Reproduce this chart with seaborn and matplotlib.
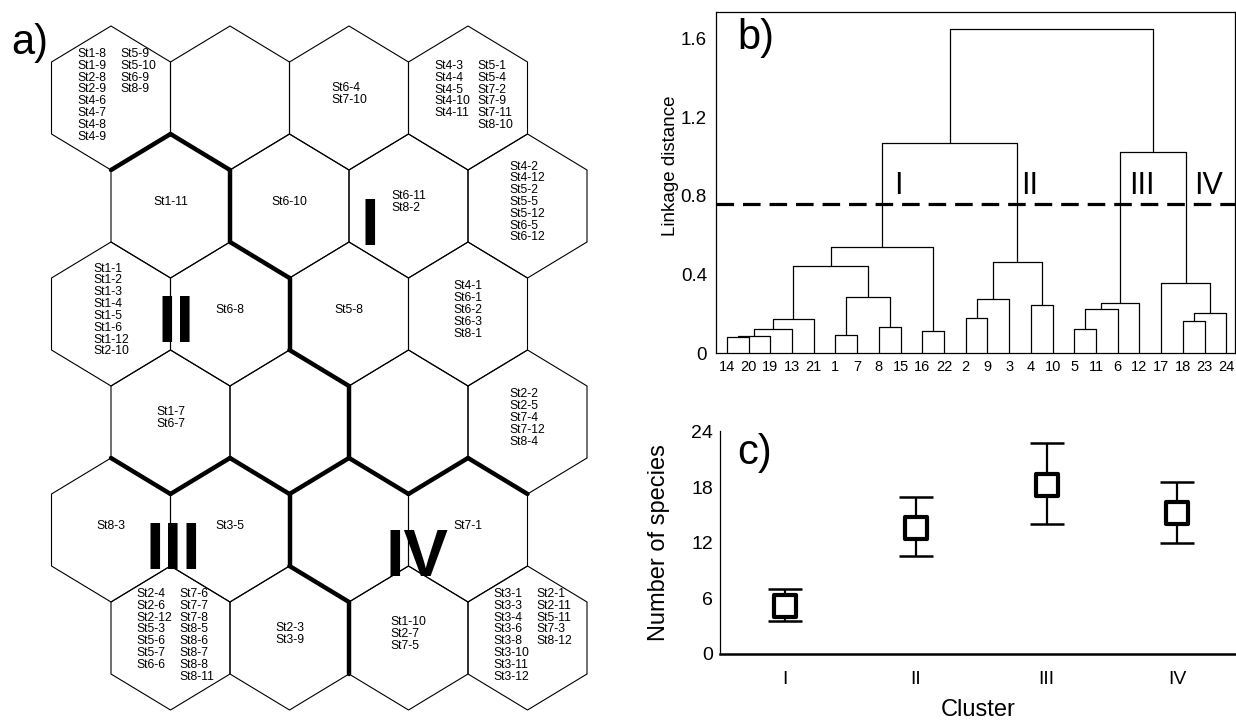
import numpy as np
import pandas as pd
import matplotlib
matplotlib.use("Agg")
import matplotlib.pyplot as plt
from matplotlib.patches import Polygon
import seaborn as sns

# ---------------- data ----------------
# (a) SOM map: 6 rows x 4 nodes, each node = (first text column, second text column)
som_row0 = [(["St1-8", "St1-9", "St2-8", "St2-9", "St4-6", "St4-7", "St4-8", "St4-9"],
             ["St5-9", "St5-10", "St6-9", "St8-9"]),
            ([], []),
            (["St6-4", "St7-10"], []),
            (["St4-3", "St4-4", "St4-5", "St4-10", "St4-11"],
             ["St5-1", "St5-4", "St7-2", "St7-9", "St7-11", "St8-10"])]
som_row1 = [(["St1-11"], []),
            (["St6-10"], []),
            (["St6-11", "St8-2"], []),
            (["St4-2", "St4-12", "St5-2", "St5-5", "St5-12", "St6-5", "St6-12"], [])]
som_row2 = [(["St1-1", "St1-2", "St1-3", "St1-4", "St1-5", "St1-6", "St1-12", "St2-10"], []),
            (["St6-8"], []),
            (["St5-8"], []),
            (["St4-1", "St6-1", "St6-2", "St6-3", "St8-1"], [])]
som_row3 = [(["St1-7", "St6-7"], []),
            ([], []),
            ([], []),
            (["St2-2", "St2-5", "St7-4", "St7-12", "St8-4"], [])]
som_row4 = [(["St8-3"], []),
            (["St3-5"], []),
            ([], []),
            (["St7-1"], [])]
som_row5 = [(["St2-4", "St2-6", "St2-12", "St5-3", "St5-6", "St5-7", "St6-6"],
             ["St7-6", "St7-7", "St7-8", "St8-5", "St8-6", "St8-7", "St8-8", "St8-11"]),
            (["St2-3", "St3-9"], []),
            (["St1-10", "St2-7", "St7-5"], []),
            (["St3-1", "St3-3", "St3-4", "St3-6", "St3-8", "St3-10", "St3-11", "St3-12"],
             ["St2-1", "St2-11", "St5-11", "St7-3", "St8-12"])]
som_cluster = [["I", "I", "I", "I"],
               ["II", "I", "I", "I"],
               ["II", "II", "I", "I"],
               ["II", "II", "I", "I"],
               ["III", "III", "IV", "IV"],
               ["III", "III", "IV", "IV"]]

# (b) dendrogram: leaf order and successive merges (a, b, linkage distance)
leaf_order = [14, 20, 19, 13, 21, 1, 7, 8, 15, 16, 22, 2, 9, 3, 4, 10, 5, 11, 6, 12, 17, 18, 23, 24]
merge_a = [14, "c0", "c1", "c2", 1, 8, "c4", "c3", 16, "c7", 2, "c10", 4, "c11", "c9",
           5, "c15", "c16", 18, "c18", 17, "c17", "c14"]
merge_b = [20, 19, 13, 21, 7, 15, "c5", "c6", 22, "c8", 9, 3, 10, "c12", "c13",
           11, 6, 12, 23, 24, "c19", "c20", "c21"]
merge_h = [0.080, 0.087, 0.124, 0.172, 0.090, 0.132, 0.285, 0.443, 0.112, 0.540, 0.180, 0.277,
           0.243, 0.462, 1.068, 0.120, 0.222, 0.253, 0.165, 0.205, 0.355, 1.026, 1.650]
cut_level = 0.76
b_cluster_labels = ["I", "II", "III", "IV"]

# (c) number of species per cluster
clusters = ["I", "II", "III", "IV"]
species_mean = [5.2, 13.65, 18.3, 15.2]
species_hi = [7.05, 17.0, 22.8, 18.55]
species_lo = [3.6, 10.55, 14.0, 12.0]

# ---------------- style ----------------
sns.set_theme(style="white")
plt.rcParams['font.family'] = ['Liberation Sans', 'DejaVu Sans']
plt.rcParams['axes.edgecolor'] = 'black'
plt.rcParams['text.color'] = 'black'
plt.rcParams['xtick.color'] = 'black'
plt.rcParams['ytick.color'] = 'black'
plt.rcParams['axes.labelcolor'] = 'black'

W, H = 1236, 720
fig = plt.figure(figsize=(W / 100, H / 100), dpi=100)

# ---------------- (a) hexagon map ----------------
axa = fig.add_axes([0, 0, 600 / W, 1])
axa.set_xlim(0, 600)
axa.set_ylim(H, 0)
axa.axis('off')

x0, y0, px, py = 111.0, 98.0, 119.0, 108.0
hw, R = 59.5, 72.0
offs = [(0, -R), (hw, -R / 2), (hw, R / 2), (0, R), (-hw, R / 2), (-hw, -R / 2)]
rows = [som_row0, som_row1, som_row2, som_row3, som_row4, som_row5]

edge_map = {}
for r, row in enumerate(rows):
    for c, (col1, col2) in enumerate(row):
        cx = x0 + px * c + (hw if r % 2 else 0)
        cy = y0 + py * r
        verts = [(cx + dx, cy + dy) for dx, dy in offs]
        axa.add_patch(Polygon(verts, closed=True, fill=False, ec='black', lw=0.8))
        for i in range(6):
            p1 = (round(verts[i][0], 1), round(verts[i][1], 1))
            p2 = (round(verts[(i + 1) % 6][0], 1), round(verts[(i + 1) % 6][1], 1))
            key = tuple(sorted([p1, p2]))
            edge_map.setdefault(key, []).append(som_cluster[r][c])
        fs = 8.7
        if col2:
            n = max(len(col1), len(col2))
            top = cy - n * 6.0 - 2
            axa.text(cx - 34, top, "\n".join(col1), ha='left', va='top', fontsize=fs, linespacing=0.98)
            axa.text(cx + 9, top, "\n".join(col2), ha='left', va='top', fontsize=fs, linespacing=0.98)
        elif col1:
            axa.text(cx, cy - 4, "\n".join(col1), ha='center', va='center', fontsize=fs,
                     linespacing=0.98, multialignment='left')

for (p1, p2), cl in edge_map.items():
    if len(cl) == 2 and cl[0] != cl[1]:
        axa.plot([p1[0], p2[0]], [p1[1], p2[1]], color='black', lw=3.2, solid_capstyle='round')

for lab, (tx, ty) in zip(["I", "II", "III", "IV"], [(370, 228), (176, 325), (173, 552), (417, 559)]):
    axa.text(tx, ty, lab, ha='center', va='center', fontsize=48, fontweight='bold')
axa.text(30, 43, "a)", ha='center', va='center', fontsize=30)

# ---------------- (b) dendrogram ----------------
axb = fig.add_axes([716 / W, 1 - 353 / H, (1235 - 716) / W, (353 - 12) / H])
nodes = {leaf: (float(i), 0.0) for i, leaf in enumerate(leaf_order)}
for k, (a, b, h) in enumerate(zip(merge_a, merge_b, merge_h)):
    xa, ha_ = nodes[a]
    xb, hb_ = nodes[b]
    axb.plot([xa, xa, xb, xb], [ha_, h, h, hb_], color='black', lw=0.9)
    nodes["c%d" % k] = ((xa + xb) / 2, h)
axb.axhline(cut_level, color='black', lw=2.3, ls=(0, (5.5, 2.8)))
for lab, (tx, ty) in zip(b_cluster_labels, [(7.9, 0.85), (13.95, 0.85), (19.1, 0.85), (22.2, 0.85)]):
    axb.text(tx, ty, lab, ha='center', va='center', fontsize=22)
axb.set_xlim(-0.5, 23.4)
axb.set_ylim(0, 1.737)
axb.set_xticks(range(len(leaf_order)))
axb.set_xticklabels([str(v) for v in leaf_order], fontsize=10.5)
axb.set_yticks([0, 0.4, 0.8, 1.2, 1.6])
axb.set_yticklabels(["0", "0.4", "0.8", "1.2", "1.6"], fontsize=13.5)
axb.tick_params(axis='x', length=0, pad=5)
axb.tick_params(axis='y', direction='inout', length=5, width=0.8, pad=4)
axb.set_ylabel("Linkage distance", fontsize=13.5)
axb.yaxis.set_label_coords(-0.072, 0.548)
for s in axb.spines.values():
    s.set_linewidth(0.9)
    s.set_color('black')
axb.text(0.077, 0.925, "b)", transform=axb.transAxes, ha='center', va='center', fontsize=30)

# ---------------- (c) species per cluster ----------------
axc = fig.add_axes([720 / W, 1 - 654 / H, (W - 720) / W, (654 - 431) / H])
xpos = np.arange(len(clusters))
mean = np.array(species_mean)
yerr = np.vstack([mean - np.array(species_lo), np.array(species_hi) - mean])
axc.errorbar(xpos, mean, yerr=yerr, fmt='none', ecolor='black', elinewidth=1.6,
             capsize=12, capthick=1.8, zorder=2)
df = pd.DataFrame({"x": xpos, "mean": mean})
sns.scatterplot(data=df, x="x", y="mean", marker='s', s=16 ** 2, color='white',
                edgecolor='black', linewidth=3.0, ax=axc, zorder=3, legend=False)
axc.set_xlim(-0.5, 3.45)
axc.set_ylim(0, 24.1)
axc.set_xticks(xpos)
axc.set_xticklabels(clusters, fontsize=14)
axc.set_yticks([0, 6, 12, 18, 24])
axc.set_yticklabels(["0", "6", "12", "18", "24"], fontsize=14)
axc.tick_params(axis='x', direction='inout', length=9, width=1.2, pad=8)
axc.tick_params(axis='y', direction='in', length=5, width=0.8, pad=5)
axc.set_xlabel("Cluster", fontsize=17)
axc.xaxis.set_label_coords(0.5, -0.2)
axc.set_ylabel("Number of species", fontsize=17)
axc.yaxis.set_label_coords(-0.097, 0.5)
sns.despine(ax=axc)
axc.spines['left'].set_linewidth(0.9)
axc.spines['bottom'].set_linewidth(1.8)
axc.text(0.068, 0.90, "c)", transform=axc.transAxes, ha='center', va='center', fontsize=30)

fig.savefig("out.png", dpi=100)
